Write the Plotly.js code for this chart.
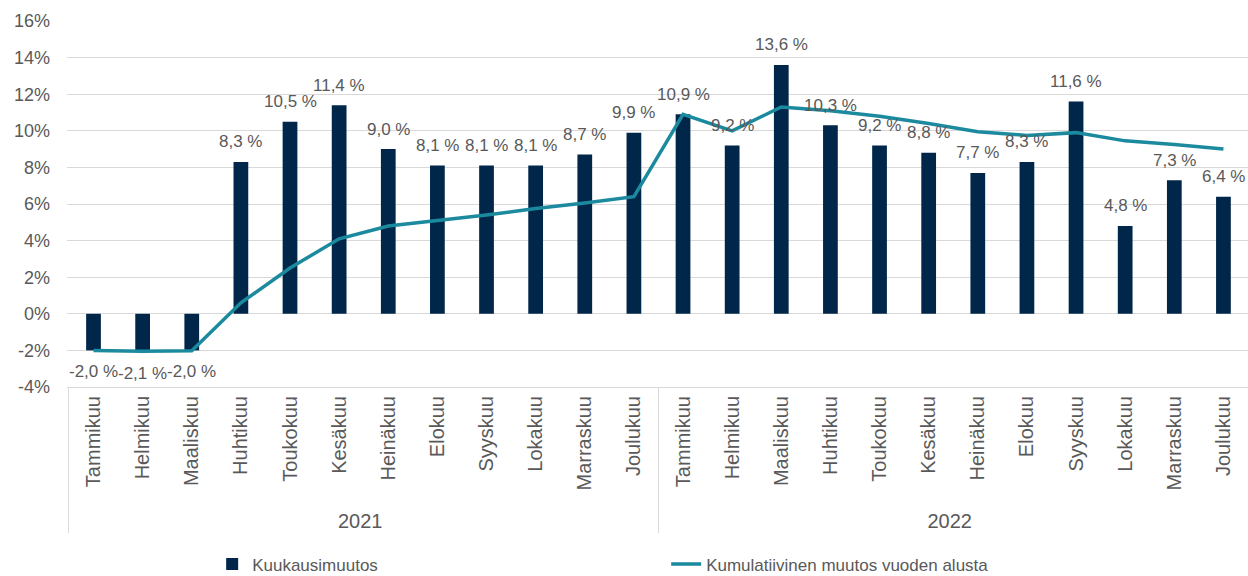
<!DOCTYPE html>
<html>
<head>
<meta charset="utf-8">
<script src="https://cdn.plot.ly/plotly-3.0.1.min.js"></script>
<style>
  html, body { margin: 0; padding: 0; background: #ffffff; }
  #chart { width: 1248px; height: 576px; }
</style>
</head>
<body>
<div id="chart"></div>
<script>
// ---- data ----
const years = ['2021','2021','2021','2021','2021','2021','2021','2021','2021','2021','2021','2021',
               '2022','2022','2022','2022','2022','2022','2022','2022','2022','2022','2022','2022'];
const months = ['Tammikuu','Helmikuu','Maaliskuu','Huhtikuu','Toukokuu','Kesäkuu','Heinäkuu','Elokuu','Syyskuu','Lokakuu','Marraskuu','Joulukuu',
                'Tammikuu','Helmikuu','Maaliskuu','Huhtikuu','Toukokuu','Kesäkuu','Heinäkuu','Elokuu','Syyskuu','Lokakuu','Marraskuu','Joulukuu'];
const monthlyChange = [-2.0, -2.1, -2.0, 8.3, 10.5, 11.4, 9.0, 8.1, 8.1, 8.1, 8.7, 9.9,
                       10.9, 9.2, 13.6, 10.3, 9.2, 8.8, 7.7, 8.3, 11.6, 4.8, 7.3, 6.4];
const cumulativeChange = [-2.0, -2.05, -2.02, 0.6, 2.5, 4.1, 4.8, 5.1, 5.4, 5.75, 6.05, 6.4,
                          10.9, 10.0, 11.3, 11.1, 10.8, 10.4, 9.95, 9.75, 9.9, 9.45, 9.25, 9.0];
const yTickVals = [-4, -2, 0, 2, 4, 6, 8, 10, 12, 14, 16];
const yTickText = ['-4%', '-2%', '0%', '2%', '4%', '6%', '8%', '10%', '12%', '14%', '16%'];
const seriesNames = ['Kuukausimuutos', 'Kumulatiivinen muutos vuoden alusta'];

// ---- styling ----
const FONT = 'Liberation Sans, Arial, sans-serif';
const GREY = '#595959';
const GRID = '#d9d9d9';
const NAVY = '#00264a';
const TEAL = '#1b8a9e';

const fmt = v => v.toFixed(1).replace('.', ',') + ' %';

const barTrace = {
  type: 'bar',
  name: seriesNames[0],
  x: [years, months],
  y: monthlyChange,
  width: 0.3,
  marker: { color: NAVY },
  hoverinfo: 'skip'
};

const lineTrace = {
  type: 'scatter',
  mode: 'lines',
  name: seriesNames[1],
  x: [years, months],
  y: cumulativeChange,
  line: { color: TEAL, width: 3.5 },
  hoverinfo: 'skip'
};

const annotations = monthlyChange.map((v, i) => ({
  x: i,
  y: v,
  xref: 'x',
  yref: 'y',
  text: fmt(v),
  showarrow: false,
  xanchor: 'center',
  yanchor: 'middle',
  yshift: v >= 0 ? 20 : -21,
  font: { family: FONT, size: 17, color: GREY }
}));

const layout = {
  width: 1248,
  height: 576,
  margin: { l: 67, r: 0, t: 21, b: 189 },
  paper_bgcolor: '#ffffff',
  plot_bgcolor: '#ffffff',
  font: { family: FONT, color: GREY },
  showlegend: true,
  xaxis: {
    type: 'multicategory',
    tickangle: -90,
    tickfont: { family: FONT, size: 20, color: GREY },
    showdividers: true,
    dividercolor: GRID,
    dividerwidth: 1,
    showline: true,
    linecolor: GRID,
    linewidth: 1,
    showgrid: false,
    ticks: '',
    fixedrange: true
  },
  yaxis: {
    range: [-4, 16],
    tickvals: yTickVals,
    ticktext: yTickText,
    showgrid: true,
    gridcolor: GRID,
    gridwidth: 1,
    zeroline: false,
    showline: false,
    ticks: '',
    ticklabelstandoff: 16,
    tickfont: { family: FONT, size: 18, color: GREY },
    fixedrange: true
  },
  legend: {
    orientation: 'h',
    xref: 'container',
    yref: 'container',
    x: 0.17,
    y: 0.02,
    xanchor: 'left',
    yanchor: 'middle',
    entrywidth: 409,
    entrywidthmode: 'pixels',
    font: { family: FONT, size: 17, color: GREY },
    bgcolor: 'rgba(0,0,0,0)'
  },
  annotations: annotations
};

Plotly.newPlot('chart', [barTrace, lineTrace], layout, { displayModeBar: false, staticPlot: true });
</script>
</body>
</html>
